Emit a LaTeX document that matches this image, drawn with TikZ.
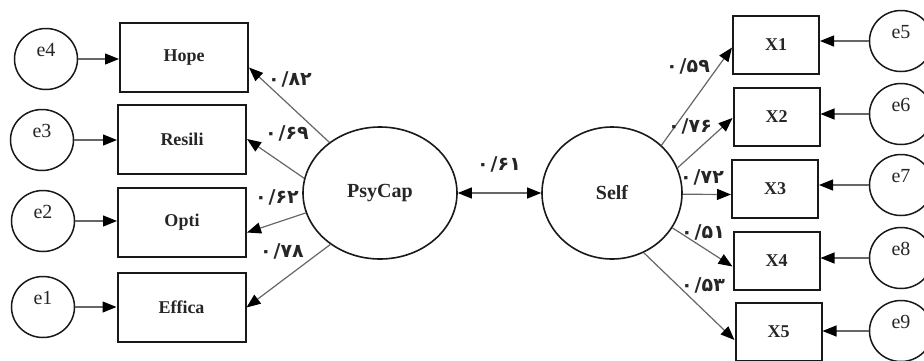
\documentclass[tikz,border=0pt]{standalone}
\usepackage{fontspec}
\setmainfont{Liberation Serif}
\newfontfamily\fa{DejaVu Sans}
\usetikzlibrary{arrows.meta,shapes.geometric}

\tikzset{
  obsbox/.style={draw=black!90, line width=2pt, rectangle, inner sep=0pt,
    font=\fontsize{18}{20}\selectfont\bfseries, text=black!85},
  leftbox/.style={obsbox, minimum width=128pt, minimum height=69pt},
  rightbox/.style={obsbox, minimum width=86pt, minimum height=58pt},
  errc/.style={draw=black!90, line width=1.5pt, ellipse, minimum width=63pt,
    minimum height=61pt, inner sep=0pt, font=\fontsize{20}{22}\selectfont, text=black!85},
  latent/.style={draw=black!90, line width=1.6pt, ellipse, inner sep=0pt,
    minimum height=132pt, font=\fontsize{20}{22}\selectfont\bfseries, text=black!85},
  path/.style={draw=black!60, line width=1.2pt, -{Triangle[length=14pt,width=11pt,fill=black,color=black]}},
  coef/.style={font=\fa\bfseries\fontsize{19}{21}\selectfont, text=black!85, inner sep=0pt}
}
\newcommand{\elabel}[1]{\raisebox{2.5pt}[0pt][0pt]{#1}}
% Persian decimal: zero, slash, two digits, set strictly left to right
\newcommand{\cf}[2]{۰\kern2pt/\kern0pt#1\kern0pt#2}

\begin{document}
\begin{tikzpicture}[x=1pt,y=-1pt]
\useasboundingbox (0,0) rectangle (924,360);

% latent variables
\node[latent, minimum width=154pt] (psy) at (380,193) {PsyCap};
\node[latent, minimum width=140pt] (self) at (612,193) {Self};

% indicators of PsyCap
\node[leftbox] (hope)   at (184,57.5)  {Hope};
\node[leftbox] (resili) at (182,139)   {Resili};
\node[leftbox] (opti)   at (182,222.5) {Opti};
\node[leftbox] (effica) at (181.5,307.5) {Effica};

% indicators of Self
\node[rightbox] (x1) at (776,44.5)  {X1};
\node[rightbox] (x2) at (776.5,117) {X2};
\node[rightbox] (x3) at (775,188.5) {X3};
\node[rightbox] (x4) at (776.5,260.5) {X4};
\node[rightbox] (x5) at (778.5,332) {X5};

% error terms
\node[errc] (e4) at (46,59)  {\elabel{e4}};
\node[errc] (e3) at (42,140) {\elabel{e3}};
\node[errc] (e2) at (43,221) {\elabel{e2}};
\node[errc] (e1) at (43,307) {\elabel{e1}};
\node[errc] (e5) at (901,41)  {\elabel{e5}};
\node[errc] (e6) at (901,114) {\elabel{e6}};
\node[errc] (e7) at (901,185) {\elabel{e7}};
\node[errc] (e8) at (901,258) {\elabel{e8}};
\node[errc] (e9) at (901,331) {\elabel{e9}};

% error paths
\draw[path] (e4.east) -- (e4.east -| hope.west);
\draw[path] (e3.east) -- (e3.east -| resili.west);
\draw[path] (e2.east) -- (e2.east -| opti.west);
\draw[path] (e1.east) -- (e1.east -| effica.west);
\draw[path] (e5.west) -- (e5.west -| x1.east);
\draw[path] (e6.west) -- (e6.west -| x2.east);
\draw[path] (e7.west) -- (e7.west -| x3.east);
\draw[path] (e8.west) -- (e8.west -| x4.east);
\draw[path] (e9.west) -- (e9.west -| x5.east);

% loadings
\draw[path] (psy.135) -- ([yshift=-10pt]hope.east);
\draw[path] (psy.169) -- (resili.east);
\draw[path] (psy.195) -- ([yshift=-10pt]opti.east);
\draw[path] (psy.226) -- (effica.east);

\draw[path] (self.44)  -- ([yshift=-3pt]x1.west);
\draw[path] (self.21)  -- ([yshift=-1pt]x2.west);
\draw[path] (self.-1)  -- ([yshift=-6pt]x3.west);
\draw[path] (self.-30) -- ([yshift=-6pt]x4.west);
\draw[path] (self.-62) -- ([yshift=-8pt]x5.west);

% correlation
\draw[draw=black!60, line width=1.2pt, {Triangle[length=14pt,width=11pt,fill=black,color=black]}-{Triangle[length=14pt,width=11pt,fill=black,color=black]}]
  (psy) -- (self);

% coefficients
\node[coef] (c1) at (290,79)  {\cf{۸}{۲}};
\node[coef] (c2) at (287,133) {\cf{۶}{۹}};
\node[coef] (c3) at (277,197) {\cf{۶}{۲}};
\node[coef] (c4) at (282,251) {\cf{۷}{۸}};
\node[coef] (c5) at (499,164) {\cf{۶}{۱}};
\node[coef] (c6) at (688,66)  {\cf{۵}{۹}};
\node[coef] (c7) at (690,126) {\cf{۷}{۶}};
\node[coef] (c8) at (702,177) {\cf{۷}{۲}};
\node[coef] (c9) at (703,232) {\cf{۵}{۱}};
\node[coef] (c10) at (703,285) {\cf{۵}{۳}};
\end{tikzpicture}
\end{document}
